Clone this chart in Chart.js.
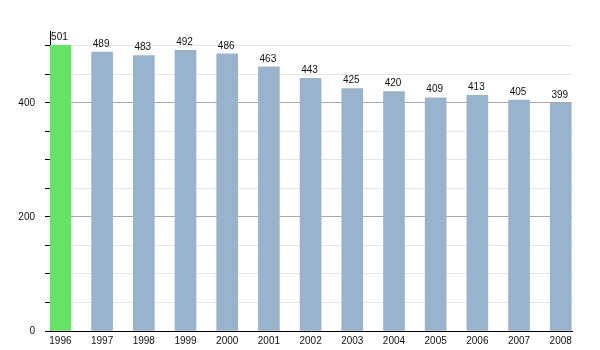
<!DOCTYPE html>
<html>
<head>
<meta charset="utf-8">
<script src="https://cdn.jsdelivr.net/npm/chart.js@4/dist/chart.umd.min.js"></script>
<style>
    html, body { margin: 0; padding: 0; background: #fff; }
    #wrap { width: 600px; height: 350px; }
</style>
</head>
<body>
<div id="wrap"><canvas id="popChart"></canvas></div>
<script>
const years = ['1996', '1997', '1998', '1999', '2000', '2001', '2002', '2003', '2004', '2005', '2006', '2007', '2008'];
const population = [501, 489, 483, 492, 486, 463, 443, 425, 420, 409, 413, 405, 399];
const yLabels = [0, 200, 400];

const green = '#66e366';
const blue = '#9ab3cd';
const fontFamily = '"Liberation Sans", Arial, sans-serif';

// value printed above every bar
const barValues = {
    id: 'barValues',
    afterDatasetsDraw(chart) {
        const { ctx } = chart;
        const meta = chart.getDatasetMeta(0);
        ctx.save();
        ctx.font = '10px ' + fontFamily;
        ctx.fillStyle = '#111';
        ctx.textAlign = 'center';
        ctx.textBaseline = 'bottom';
        meta.data.forEach((bar, i) => {
            ctx.fillText(String(population[i]), bar.x - 1, bar.y - 3);
        });
        ctx.restore();
    }
};

new Chart(document.getElementById('popChart'), {
    type: 'bar',
    data: {
        datasets: [{
            data: population.map((v, i) => ({ x: i, y: v })),
            backgroundColor: population.map((_, i) => i === 0 ? green : blue),
            borderWidth: 0,
            barThickness: 21
        }]
    },
    options: {
        responsive: true,
        maintainAspectRatio: false,
        animation: false,
        layout: { padding: { top: 31, right: 28, left: 0, bottom: 0 } },
        plugins: { legend: { display: false }, tooltip: { enabled: false } },
        scales: {
            x: {
                type: 'linear',
                offset: false,
                min: -0.25,
                max: 12.27,
                afterBuildTicks: (scale) => {
                    scale.ticks = years.map((_, i) => ({ value: i }));
                },
                afterFit: (scale) => { scale.height = 19; },
                grid: { display: false, drawTicks: false },
                border: { color: '#000', width: 1 },
                ticks: {
                    autoSkip: false,
                    maxRotation: 0,
                    padding: 4,
                    color: '#111',
                    font: { family: fontFamily, size: 10 },
                    callback: (v) => years[v] || ''
                }
            },
            y: {
                min: 0,
                max: 526,
                afterFit: (scale) => { scale.width = 50; },
                border: { color: '#000', width: 1 },
                grid: {
                    tickLength: 5,
                    color: (c) => {
                        const v = c.tick.value;
                        if (v === 0 || v % 50 !== 0) return 'rgba(0,0,0,0)';
                        return v % 200 === 0 ? '#a8a8a8' : '#e6e6e6';
                    },
                    tickColor: (c) => c.tick.value % 50 === 0 ? '#000' : 'rgba(0,0,0,0)'
                },
                ticks: {
                    stepSize: 50,
                    padding: 10,
                    color: '#111',
                    font: { family: fontFamily, size: 10 },
                    callback: (v) => yLabels.includes(v) ? String(v) : ''
                }
            }
        }
    },
    plugins: [barValues]
});
</script>
</body>
</html>
